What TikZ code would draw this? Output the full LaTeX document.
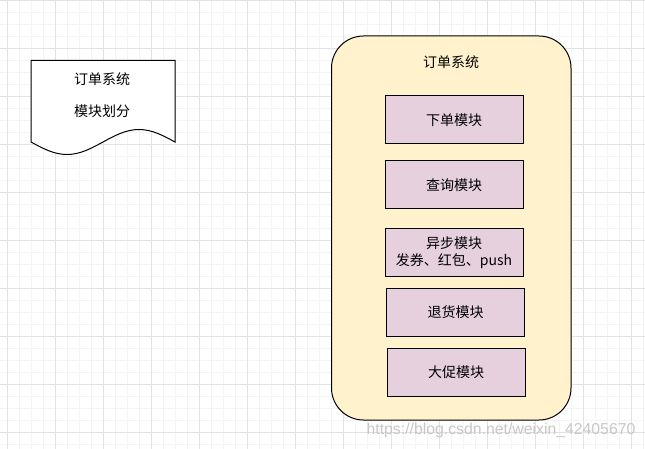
\documentclass[tikz,border=0pt]{standalone}
\usepackage{fontspec}
\setmainfont{Noto Sans CJK SC}
\newfontfamily\wmfont{Liberation Sans}
\definecolor{contfill}{HTML}{FFF2CC}
\definecolor{modfill}{HTML}{E6D0DE}
\definecolor{gridminor}{HTML}{F4F4F4}
\definecolor{gridmajor}{HTML}{E2E2E2}
\begin{document}
\begin{tikzpicture}[x=1pt,y=-1pt,
  txt/.style={font=\fontsize{14}{16.7}\selectfont, inner sep=0pt, align=center},
  modbox/.style={draw=black, line width=1pt, fill=modfill, minimum width=138pt, minimum height=48pt, inner sep=0pt, align=center, font=\fontsize{14}{16.7}\selectfont},
  contbox/.style={draw=black, line width=1pt, fill=contfill, minimum width=239.5pt, minimum height=384pt, rounded corners=32pt, inner sep=0pt},
  docshape/.style={draw=black, line width=1pt, fill=white}]
\useasboundingbox (0,0) rectangle (645,449);
\fill[white] (0,0) rectangle (645,449);
% grid
\foreach \i in {0,...,53} {\draw[gridminor, line width=0.8pt] ({7+12*\i},0) -- ({7+12*\i},449);}
\foreach \j in {0,...,37} {\draw[gridminor, line width=0.8pt] (0,{12*\j}) -- (645,{12*\j});}
\foreach \i in {0,...,13} {\draw[gridmajor, line width=0.8pt] ({7+48*\i},0) -- ({7+48*\i},449);}
\foreach \j in {0,...,9} {\draw[gridmajor, line width=0.8pt] (0,{48*\j}) -- (645,{48*\j});}
% document shape
\draw[docshape] (31,142) -- (31,60.5) -- (175,60.5) -- (175,142) sin (139,129.5) cos (103,142) sin (67,154.5) cos (31,142) -- cycle;
\node[txt] (doc1) at (102,79) {订单系统};
\node[txt] (doc2) at (102,111.5) {模块划分};
% container
\node[contbox] (sys) at (451.25,228) {};
\node[txt] (systitle) at (451,62) {订单系统};
\node[modbox] (m1) at (454,120) {下单模块};
\node[modbox] (m2) at (454,185) {查询模块};
\node[modbox] (m3) at (454,252.5) {异步模块\\发券、红包、push};
\node[modbox] (m4) at (455.5,312) {退货模块};
\node[modbox] (m5) at (456,372.5) {大促模块};
% watermark
\node[font=\wmfont\fontsize{15.8}{18}\selectfont, text=black!22, inner sep=0pt] (wm) at (501,430) {https://blog.csdn.net/weixin\_42405670};
\end{tikzpicture}
\end{document}
